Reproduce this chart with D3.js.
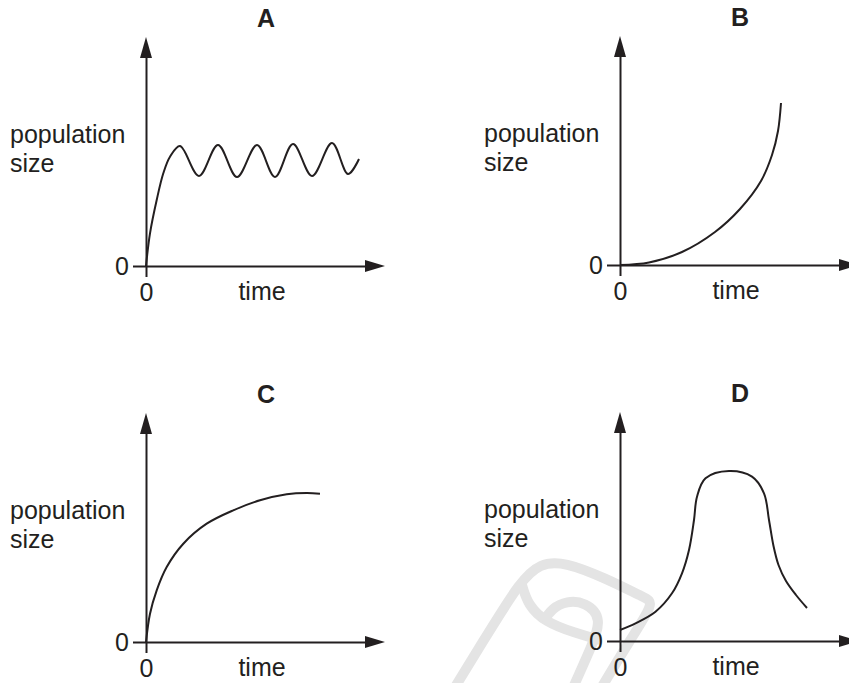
<!DOCTYPE html>
<html>
<head>
    <meta charset="utf-8">
    <title>Population growth curves</title>
    <script src="https://d3js.org/d3.v7.min.js"></script>
    <style>
        body { margin: 0; background: #fff; }
    </style>
</head>
<body>
<div id="chart"></div>

<script type="text/javascript">
    // panel titles
    let titles = ["A", "B", "C", "D"];

    // curve A: overshoot then oscillation
    let timeA = [0, 2, 5.35, 8.65, 12, 17, 26.5, 36, 45.5, 55.5, 64.5, 73.5, 83, 93, 101, 106.5];
    let popA  = [0, 16.35, 33, 46.35, 54.65, 60, 45, 60.5, 44.5, 60.5, 44.5, 61, 45, 61.5, 46, 53.5];

    // curve B: exponential (J-shaped)
    let timeB = [0, 14.5, 31, 47.5, 60, 70.5, 76, 79, 80.5];
    let popB  = [0, 1.25, 6.5, 16.5, 28, 42, 55, 67, 81];

    // curve C: levelling off
    let timeC = [0, 2, 5.35, 10.35, 18.65, 30.35, 43.65, 57, 70.35, 80.35, 87];
    let popC  = [0, 14.15, 25.85, 37.5, 49.15, 59.15, 65.85, 70.85, 73.85, 74.5, 74.15];

    // curve D: rise and crash
    let timeD = [0, 7.75, 17.75, 26, 31, 34.5, 37, 38.5, 42.75, 54.5, 66, 72, 74.5, 76.75, 79.25, 83, 88, 93.5];
    let popD  = [5.5, 8.85, 14.65, 23.85, 33.85, 45.5, 60.5, 72.15, 81.35, 85, 82.15, 73.85, 60.5, 47.5, 38, 30, 23, 16.5];

    let zeroTicks = [0];
    let yLabel = ["population", "size"];
    let xLabel = "time";

    let series = [
        {t: timeA, p: popA},
        {t: timeB, p: popB},
        {t: timeC, p: popC},
        {t: timeD, p: popD}
    ];

    let origins = [[146, 266], [620, 265], [146, 642], [620, 641]];
    let ink = "#231f20";
    let font = "'Liberation Sans', Arial, sans-serif";

    let svg = d3.select("#chart")
        .append("svg")
            .attr("width", 849)
            .attr("height", 683);

    // faint watermark in the lower right panel
    let wm = svg.append("g")
        .attr("fill", "none")
        .attr("stroke", "#e4e4e4")
        .attr("stroke-width", 10)
        .attr("stroke-linecap", "butt");
    let wmLine = d3.line().curve(d3.curveBasis);
    wm.append("path").attr("d", wmLine([[452, 692], [490, 630], [520, 582], [540, 563], [565, 562], [605, 578], [645, 598], [655, 602], [630, 640], [600, 690]]));
    wm.append("path").attr("d", wmLine([[522, 585], [528, 605], [545, 622], [575, 633], [600, 640]]));
    wm.append("path").attr("d", wmLine([[543, 622], [552, 608], [567, 601], [585, 602], [603, 618], [590, 650], [572, 690]]));

    let x = d3.scaleLinear().domain([0, 100]).range([0, 200]);
    let y = d3.scaleLinear().domain([0, 100]).range([0, -200]);
    let xAx = d3.scaleLinear().domain([0, 112.5]).range([0, 225]);
    let yAx = d3.scaleLinear().domain([0, 107]).range([0, -214]);

    let line = d3.line()
        .x(function (d) { return x(d[0]); })
        .y(function (d) { return y(d[1]); })
        .curve(d3.curveCatmullRom.alpha(0.5));

    series.forEach(function (s, i) {
        let o = origins[i];
        let g = svg.append("g")
            .attr("transform", "translate(" + o[0] + "," + o[1] + ")");

        let xAxis = d3.axisBottom(xAx)
            .tickValues(zeroTicks)
            .tickSize(11)
            .tickSizeOuter(0)
            .tickPadding(6)
            .tickFormat(d3.format("d"));

        let yAxis = d3.axisLeft(yAx)
            .tickValues(zeroTicks)
            .tickSize(13)
            .tickSizeOuter(0)
            .tickPadding(4)
            .tickFormat(d3.format("d"));

        [g.append("g").call(xAxis), g.append("g").call(yAxis)].forEach(function (a) {
            a.attr("color", ink)
                .attr("font-family", font)
                .attr("font-size", 25);
            a.selectAll("path, line").attr("stroke-width", 2);
        });

        // arrow heads
        g.append("path")
            .attr("d", "M" + (xAx.range()[1] - 6) + ",-6L" + (xAx.range()[1] + 14) + ",0L" + (xAx.range()[1] - 6) + ",6Z")
            .attr("fill", ink);
        g.append("path")
            .attr("d", "M-6," + (yAx.range()[1] + 6) + "L0," + (yAx.range()[1] - 15) + "L6," + (yAx.range()[1] + 6) + "Z")
            .attr("fill", ink);

        g.append("path")
            .datum(d3.zip(s.t, s.p))
            .attr("d", line)
            .attr("fill", "none")
            .attr("stroke", ink)
            .attr("stroke-width", 2);

        g.append("text")
            .attr("x", 120)
            .attr("y", -239)
            .attr("text-anchor", "middle")
            .attr("font-family", font)
            .attr("font-weight", "bold")
            .attr("font-size", 25)
            .attr("fill", ink)
            .text(titles[i]);

        g.selectAll("text.ylab")
            .data(yLabel)
            .enter()
            .append("text")
            .attr("class", "ylab")
            .attr("x", -136)
            .attr("y", function (d, j) { return -123 + j * 29; })
            .attr("font-family", font)
            .attr("font-size", 25)
            .attr("fill", ink)
            .text(function (d) { return d; });

        g.append("text")
            .attr("x", 116)
            .attr("y", 34)
            .attr("text-anchor", "middle")
            .attr("font-family", font)
            .attr("font-size", 25)
            .attr("fill", ink)
            .text(xLabel);
    });
</script>
</body>
</html>
